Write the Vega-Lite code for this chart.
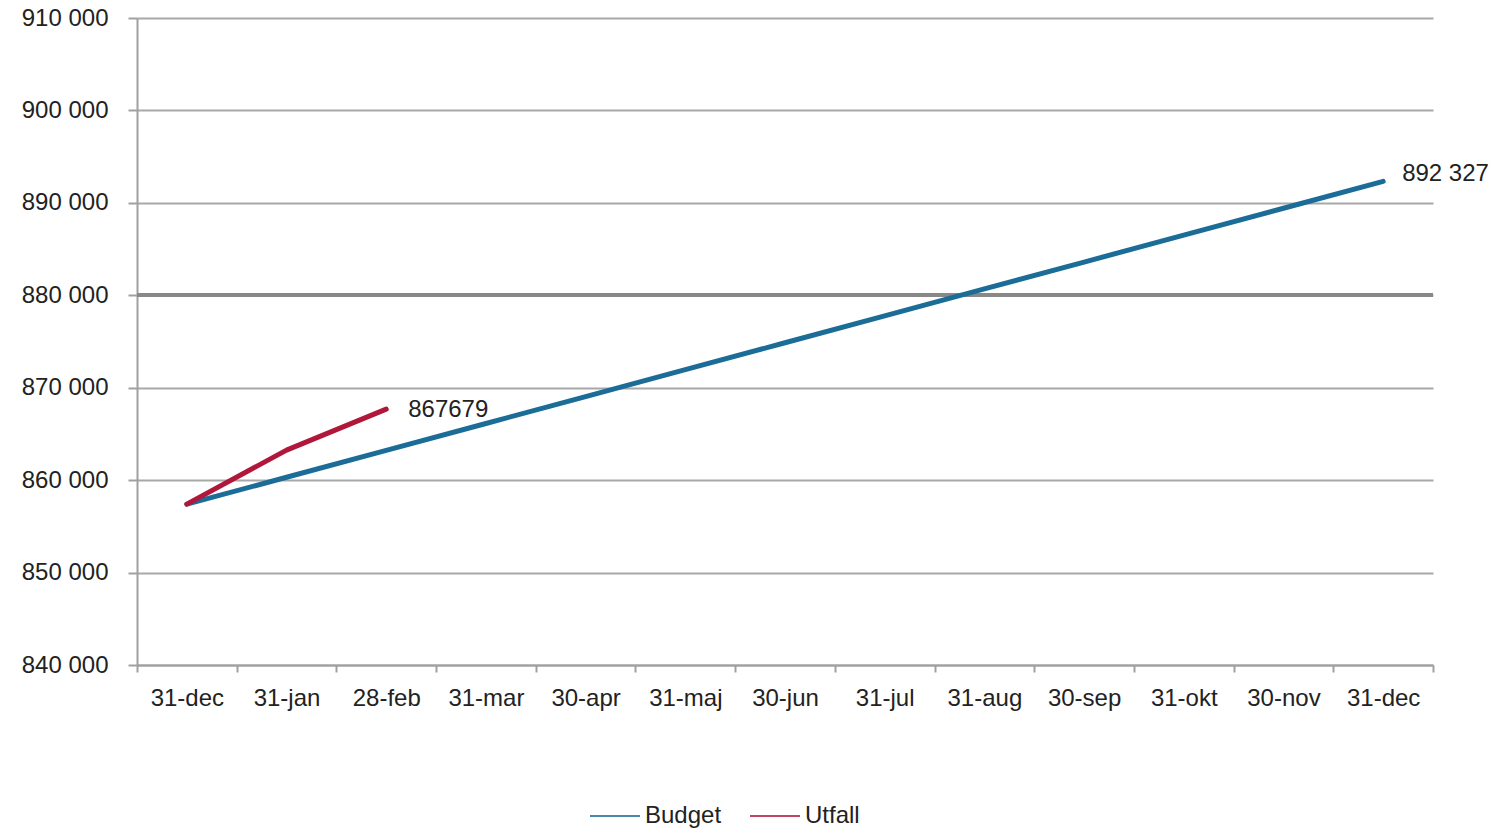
{
  "$schema": "https://vega.github.io/schema/vega-lite/v6.json",
  "autosize": {"type": "none"},
  "padding": {"left": 137, "top": 18, "right": 66, "bottom": 165},
  "width": 1296,
  "height": 647,
  "background": "white",
  "config": {
    "view": {"stroke": null},
    "font": "Liberation Sans",
    "axis": {"labelFont": "Liberation Sans", "labelFontSize": 24, "labelColor": "#222222", "domainColor": "#a0a0a0", "domainWidth": 2, "tickColor": "#a0a0a0", "tickWidth": 2},
    "legend": {"labelFont": "Liberation Sans", "labelFontSize": 24, "labelColor": "#222222"}
  },
  "data": {
    "values": [
      {"i": 0, "series": "Budget", "value": 857400},
      {"i": 1, "series": "Budget", "value": 860311},
      {"i": 2, "series": "Budget", "value": 863221},
      {"i": 3, "series": "Budget", "value": 866132},
      {"i": 4, "series": "Budget", "value": 869042},
      {"i": 5, "series": "Budget", "value": 871953},
      {"i": 6, "series": "Budget", "value": 874864},
      {"i": 7, "series": "Budget", "value": 877774},
      {"i": 8, "series": "Budget", "value": 880685},
      {"i": 9, "series": "Budget", "value": 883595},
      {"i": 10, "series": "Budget", "value": 886506},
      {"i": 11, "series": "Budget", "value": 889416},
      {"i": 12, "series": "Budget", "value": 892327, "label": "892 327"},
      {"i": 0, "series": "Utfall", "value": 857400},
      {"i": 1, "series": "Utfall", "value": 863250},
      {"i": 2, "series": "Utfall", "value": 867679, "label": "867679"}
    ]
  },
  "encoding": {
    "x": {
      "field": "i", "type": "ordinal", "bandPosition": 0.5,
      "scale": {"type": "band", "domain": [0,1,2,3,4,5,6,7,8,9,10,11,12], "paddingInner": 0, "paddingOuter": 0},
      "axis": {
        "title": null, "labelAngle": 0, "tickBand": "extent", "tickSize": 7, "labelPadding": 14, "grid": false,
        "labelExpr": "['31-dec','31-jan','28-feb','31-mar','30-apr','31-maj','30-jun','31-jul','31-aug','30-sep','31-okt','30-nov','31-dec'][datum.value]"
      }
    },
    "y": {
      "field": "value", "type": "quantitative",
      "scale": {"domain": [840000, 910000], "nice": false, "zero": false},
      "axis": {
        "title": null, "values": [840000, 850000, 860000, 870000, 880000, 890000, 900000, 910000],
        "grid": true, "gridColor": "#a8a8a8", "gridWidth": 2, "tickSize": 9, "labelPadding": 20,
        "labelExpr": "replace(format(datum.value, ',d'), ',', ' ')"
      }
    }
  },
  "layer": [
    {
      "mark": {"type": "rule", "color": "#888888", "strokeWidth": 3},
      "encoding": {"y": {"datum": 880000}, "x": null}
    },
    {
      "mark": {"type": "line", "strokeWidth": 5, "strokeCap": "round", "strokeJoin": "round"},
      "encoding": {
        "color": {
          "field": "series", "type": "nominal",
          "scale": {"domain": ["Budget", "Utfall"], "range": ["#1b6d98", "#b0173a"]},
          "legend": {
            "title": null, "orient": "none", "direction": "horizontal",
            "legendX": 452, "legendY": 772,
            "symbolType": "stroke", "symbolSize": 2500, "symbolStrokeWidth": 2,
            "symbolOpacity": 0.8, "labelOffset": 4, "columnPadding": 24
          }
        }
      }
    },
    {
      "transform": [{"filter": "datum.series == 'Budget' && isValid(datum.label)"}],
      "mark": {"type": "text", "align": "left", "baseline": "middle", "dx": 19, "dy": -7, "fontSize": 24, "color": "#222222"},
      "encoding": {"text": {"field": "label"}}
    },
    {
      "transform": [{"filter": "datum.series == 'Utfall' && isValid(datum.label)"}],
      "mark": {"type": "text", "align": "left", "baseline": "middle", "dx": 22, "dy": 1, "fontSize": 24, "color": "#222222"},
      "encoding": {"text": {"field": "label"}}
    }
  ]
}
